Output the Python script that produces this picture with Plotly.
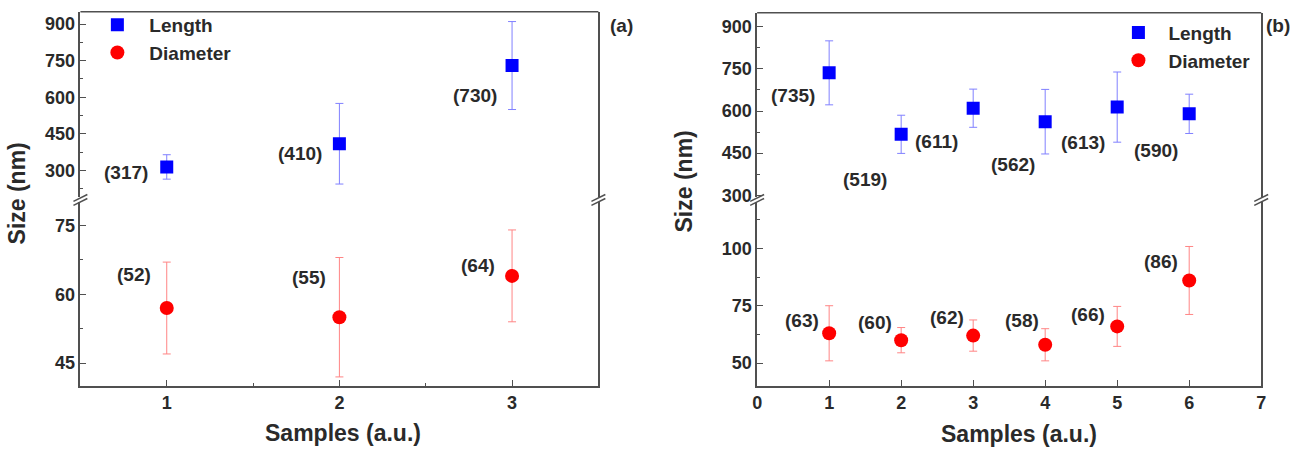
import plotly.graph_objects as go

W, H = 1294, 456

# ---------------- data ----------------
samples_a = [1, 2, 3]
length_a = [315, 410, 730]
length_a_err = [50, 165, 180]
diam_a = [57, 55, 64]
diam_a_err = [10, 13, 10]
len_labels_a = ["(317)", "(410)", "(730)"]
diam_labels_a = ["(52)", "(55)", "(64)"]

samples_b = [1, 2, 3, 4, 5, 6]
length_b = [736, 517, 610, 562, 614, 590]
length_b_err = [114, 68, 68, 115, 125, 70]
diam_b = [63, 60, 62, 58, 66, 86]
diam_b_err = [12, 5.5, 6.8, 7, 8.7, 14.8]
len_labels_b = ["(735)", "(519)", "(611)", "(562)", "(613)", "(590)"]
diam_labels_b = ["(63)", "(60)", "(62)", "(58)", "(66)", "(86)"]

# label pixel offsets (layout only)
len_off_a = [(-41, 6), (-39, 10), (-37, 30)]
diam_off_a = [(-33, -34), (-30, -40), (-34, -10)]
len_off_b = [(-36, 23), (-36, 45), (-37, 33), (-32, 43), (-34, 35), (-33, 37)]
diam_off_b = [(-27, -13), (-26, -18), (-26, -18), (-23, -24), (-29, -12), (-28, -19)]

BLUE = "#0000ff"
RED = "#ff0000"
BLUE_ERR = "#8080ff"
RED_ERR = "#ff8585"
TXT = "#2a2a2a"
LINE = "#505050"
FONT = "Liberation Sans, Arial, sans-serif"


def px(x, y):
    return x / W, 1 - y / H


def xd(a, b):
    return [a / W, b / W]


def yd(top, bottom):
    return [1 - bottom / H, 1 - top / H]


fig = go.Figure()


def add_pair(xs, lv, le, dv, de, xa, ya_up, ya_low, leg):
    fig.add_trace(go.Scatter(
        x=xs, y=lv, mode="markers", name="Length",
        marker=dict(symbol="square", size=13, color=BLUE),
        error_y=dict(type="data", array=le, color=BLUE_ERR, thickness=1, width=4),
        xaxis=xa, yaxis=ya_up, legend=leg))
    fig.add_trace(go.Scatter(
        x=xs, y=dv, mode="markers", name="Diameter",
        marker=dict(symbol="circle", size=14, color=RED),
        error_y=dict(type="data", array=de, color=RED_ERR, thickness=1, width=4),
        xaxis=xa, yaxis=ya_low, legend=leg))


add_pair(samples_a, length_a, length_a_err, diam_a, diam_a_err, "x", "y2", "y", "legend")
add_pair(samples_b, length_b, length_b_err, diam_b, diam_b_err, "x2", "y4", "y3", "legend2")

annotations = []


def add_labels(xs, vals, labels, offs, xref, yref):
    for x, v, t, (dx, dy) in zip(xs, vals, labels, offs):
        annotations.append(dict(
            x=x, y=v, xref=xref, yref=yref, text=t, showarrow=False,
            xshift=dx, yshift=-dy, xanchor="center", yanchor="middle",
            font=dict(family=FONT, size=19, color=TXT, weight="bold")))


add_labels(samples_a, length_a, len_labels_a, len_off_a, "x", "y2")
add_labels(samples_a, diam_a, diam_labels_a, diam_off_a, "x", "y")
add_labels(samples_b, length_b, len_labels_b, len_off_b, "x2", "y4")
add_labels(samples_b, diam_b, diam_labels_b, diam_off_b, "x2", "y3")

# panel tags and axis titles
for text, (x, y) in [("(a)", (608, 26)), ("(b)", (1269, 26))]:
    ax, ay = px(x, y)
    annotations.append(dict(x=ax, y=ay, xref="paper", yref="paper", text=text,
                            showarrow=False, xanchor="left", yanchor="middle",
                            font=dict(family=FONT, size=19, color=TXT, weight="bold")))
for (x, y) in [(341, 441), (1022, 442)]:
    ax, ay = px(x, y)
    annotations.append(dict(x=ax, y=ay, xref="paper", yref="paper", text="Samples (a.u.)",
                            showarrow=False, xanchor="center", yanchor="middle",
                            font=dict(family=FONT, size=23, color=TXT, weight="bold")))
for (x, y) in [(12, 197), (684, 185)]:
    ax, ay = px(x, y)
    annotations.append(dict(x=ax, y=ay, xref="paper", yref="paper", text="Size (nm)",
                            showarrow=False, textangle=-90, xanchor="center", yanchor="middle",
                            font=dict(family=FONT, size=23, color=TXT, weight="bold")))

tickfont = dict(family=FONT, size=18, color=TXT, weight="bold")
common_y = dict(showline=True, linecolor=LINE, linewidth=1.5, mirror=True,
                ticks="inside", ticklen=6, tickwidth=1.2, tickcolor=LINE,
                showgrid=False, zeroline=False, tickfont=tickfont, tick0=0)
common_x = dict(showline=True, linecolor=LINE, linewidth=1.5, mirror=False,
                ticks="inside", ticklen=6, tickwidth=1.2, tickcolor=LINE,
                showgrid=False, zeroline=False, tickfont=tickfont, tick0=0)

fig.update_layout(
    width=W, height=H, autosize=False,
    margin=dict(l=0, r=0, t=0, b=0),
    paper_bgcolor="white", plot_bgcolor="white",
    showlegend=True,
    xaxis=dict(common_x, domain=xd(76, 598), range=[0.5, 3.5], dtick=1, anchor="y",
               minor=dict(dtick=0.5, ticklen=3, ticks="inside", tickcolor=LINE)),
    yaxis=dict(common_y, domain=yd(206, 393), range=[40, 80], dtick=15, anchor="x",
               minor=dict(dtick=7.5, ticklen=3, ticks="inside", tickcolor=LINE)),
    yaxis2=dict(common_y, domain=yd(12, 201), range=[190, 950], dtick=150, anchor="x",
                minor=dict(dtick=75, ticklen=3, ticks="inside", tickcolor=LINE)),
    xaxis2=dict(common_x, domain=xd(758, 1266), range=[0, 7], dtick=1, anchor="y3"),
    yaxis3=dict(common_y, domain=yd(206, 393), range=[40, 120], dtick=25, anchor="x2",
                minor=dict(dtick=12.5, ticklen=3, ticks="inside", tickcolor=LINE)),
    yaxis4=dict(common_y, domain=yd(13, 201), range=[292, 950], dtick=150, anchor="x2",
                minor=dict(dtick=75, ticklen=3, ticks="inside", tickcolor=LINE)),
    legend=dict(x=px(81, 0)[0], y=px(0, 6)[1], xanchor="left", yanchor="top",
                bgcolor="rgba(0,0,0,0)", itemwidth=54, tracegroupgap=0,
                font=dict(family=FONT, size=19, color=TXT, weight="bold")),
    legend2=dict(x=px(1112, 0)[0], y=px(0, 14)[1], xanchor="left", yanchor="top",
                 bgcolor="rgba(0,0,0,0)", itemwidth=50, tracegroupgap=0,
                 font=dict(family=FONT, size=19, color=TXT, weight="bold")),
    annotations=annotations,
)

shapes = []
# top borders
for (x0, x1, y) in [(76, 598, 12), (758, 1266, 13)]:
    a0, b0 = px(x0, y)
    a1, _ = px(x1, y)
    shapes.append(dict(type="line", xref="paper", yref="paper", x0=a0, x1=a1, y0=b0, y1=b0,
                       line=dict(color=LINE, width=1.5)))
# axis break marks
for xc in [76, 598, 758, 1266]:
    for yc in [201.5, 205.5]:
        a0, b0 = px(xc - 7, yc + 3.5)
        a1, b1 = px(xc + 7, yc - 3.5)
        shapes.append(dict(type="line", xref="paper", yref="paper", x0=a0, x1=a1, y0=b0, y1=b1,
                           line=dict(color=LINE, width=1.5)))
fig.update_layout(shapes=shapes)

fig.write_html("out.html")
